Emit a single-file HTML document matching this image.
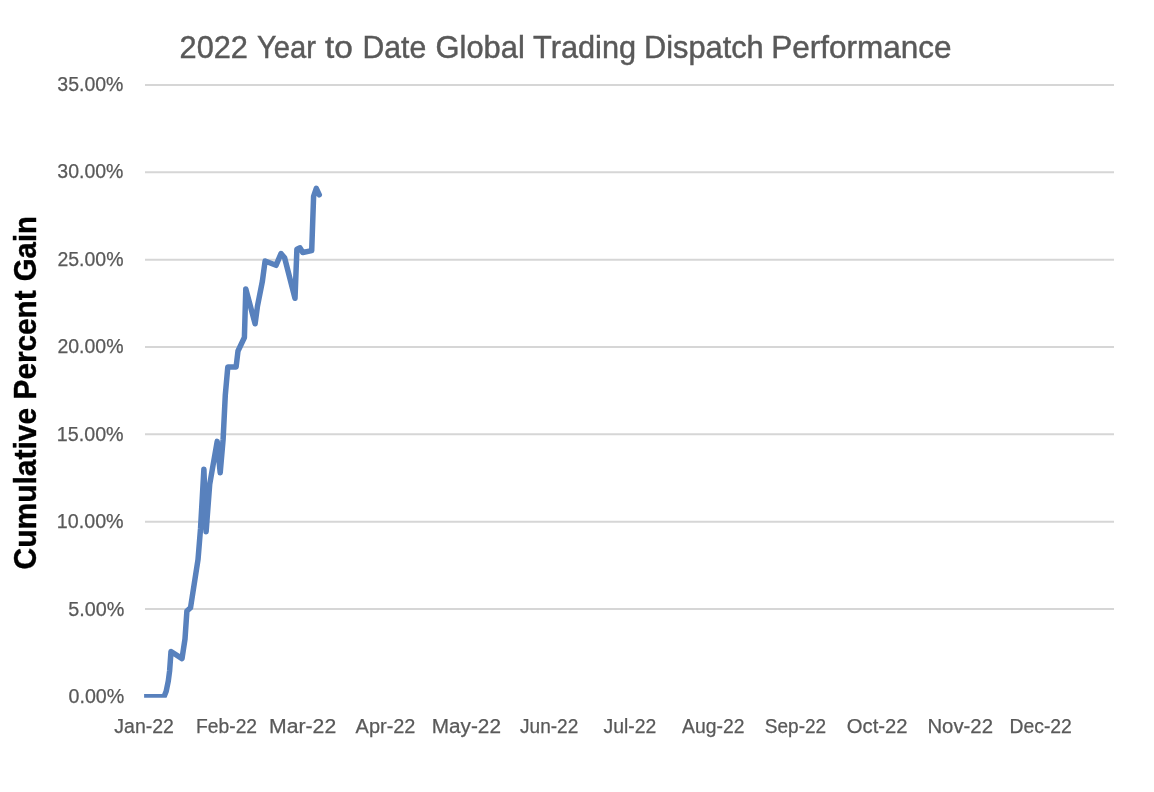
<!DOCTYPE html>
<html><head><meta charset="utf-8"><title>2022 Year to Date Global Trading Dispatch Performance</title>
<style>
html,body{margin:0;padding:0;background:#fff;}
body{width:1154px;height:792px;overflow:hidden;font-family:"Liberation Sans",sans-serif;}
svg{display:block;will-change:transform;}
svg text{font-family:"Liberation Sans",sans-serif;}
</style></head><body>
<svg width="1154" height="792" viewBox="0 0 1154 792">
<rect width="1154" height="792" fill="#ffffff"/>
<line x1="145" x2="1114" y1="85.00" y2="85.00" stroke="#d6d6d6" stroke-width="2"/>
<line x1="145" x2="1114" y1="172.33" y2="172.33" stroke="#d6d6d6" stroke-width="2"/>
<line x1="145" x2="1114" y1="259.67" y2="259.67" stroke="#d6d6d6" stroke-width="2"/>
<line x1="145" x2="1114" y1="347.00" y2="347.00" stroke="#d6d6d6" stroke-width="2"/>
<line x1="145" x2="1114" y1="434.33" y2="434.33" stroke="#d6d6d6" stroke-width="2"/>
<line x1="145" x2="1114" y1="521.66" y2="521.66" stroke="#d6d6d6" stroke-width="2"/>
<line x1="145" x2="1114" y1="609.00" y2="609.00" stroke="#d6d6d6" stroke-width="2"/>
<text id="t0" x="179.60" y="58.3" font-size="31.2" fill="#595959" stroke="#595959" stroke-width="0.45" textLength="68.37" lengthAdjust="spacingAndGlyphs">2022</text>
<text id="t1" x="256.94" y="58.3" font-size="31.2" fill="#595959" stroke="#595959" stroke-width="0.45" textLength="58.90" lengthAdjust="spacingAndGlyphs">Year</text>
<text id="t2" x="324.94" y="58.3" font-size="31.2" fill="#595959" stroke="#595959" stroke-width="0.45" textLength="27.87" lengthAdjust="spacingAndGlyphs">to</text>
<text id="t3" x="362.46" y="58.3" font-size="31.2" fill="#595959" stroke="#595959" stroke-width="0.45" textLength="63.78" lengthAdjust="spacingAndGlyphs">Date</text>
<text id="t4" x="435.60" y="58.3" font-size="31.2" fill="#595959" stroke="#595959" stroke-width="0.45" textLength="89.18" lengthAdjust="spacingAndGlyphs">Global</text>
<text id="t5" x="533.07" y="58.3" font-size="31.2" fill="#595959" stroke="#595959" stroke-width="0.45" textLength="103.03" lengthAdjust="spacingAndGlyphs">Trading</text>
<text id="t6" x="643.91" y="58.3" font-size="31.2" fill="#595959" stroke="#595959" stroke-width="0.45" textLength="119.84" lengthAdjust="spacingAndGlyphs">Dispatch</text>
<text id="t7" x="771.35" y="58.3" font-size="31.2" fill="#595959" stroke="#595959" stroke-width="0.45" textLength="180.30" lengthAdjust="spacingAndGlyphs">Performance</text>
<text id="y0" x="57.34" y="90.80" font-size="20.5" fill="#595959" stroke="#595959" stroke-width="0.25" textLength="66.13" lengthAdjust="spacingAndGlyphs">35.00%</text>
<text id="y1" x="57.34" y="178.30" font-size="20.5" fill="#595959" stroke="#595959" stroke-width="0.25" textLength="66.13" lengthAdjust="spacingAndGlyphs">30.00%</text>
<text id="y2" x="57.41" y="265.80" font-size="20.5" fill="#595959" stroke="#595959" stroke-width="0.25" textLength="66.08" lengthAdjust="spacingAndGlyphs">25.00%</text>
<text id="y3" x="57.41" y="353.30" font-size="20.5" fill="#595959" stroke="#595959" stroke-width="0.25" textLength="66.08" lengthAdjust="spacingAndGlyphs">20.00%</text>
<text id="y4" x="56.81" y="440.80" font-size="20.5" fill="#595959" stroke="#595959" stroke-width="0.25" textLength="66.83" lengthAdjust="spacingAndGlyphs">15.00%</text>
<text id="y5" x="56.81" y="528.30" font-size="20.5" fill="#595959" stroke="#595959" stroke-width="0.25" textLength="66.83" lengthAdjust="spacingAndGlyphs">10.00%</text>
<text id="y6" x="68.30" y="615.80" font-size="20.5" fill="#595959" stroke="#595959" stroke-width="0.25" textLength="56.08" lengthAdjust="spacingAndGlyphs">5.00%</text>
<text id="y7" x="68.56" y="703.30" font-size="20.5" fill="#595959" stroke="#595959" stroke-width="0.25" textLength="55.73" lengthAdjust="spacingAndGlyphs">0.00%</text>
<text id="xJan" x="114.39" y="732.9" font-size="19.4" fill="#595959" stroke="#595959" stroke-width="0.25" textLength="59.52" lengthAdjust="spacingAndGlyphs">Jan-22</text>
<text id="xFeb" x="196.04" y="732.9" font-size="19.4" fill="#595959" stroke="#595959" stroke-width="0.25" textLength="61.04" lengthAdjust="spacingAndGlyphs">Feb-22</text>
<text id="xMar" x="269.07" y="732.9" font-size="19.4" fill="#595959" stroke="#595959" stroke-width="0.25" textLength="67.14" lengthAdjust="spacingAndGlyphs">Mar-22</text>
<text id="xApr" x="355.60" y="732.9" font-size="19.4" fill="#595959" stroke="#595959" stroke-width="0.25" textLength="59.87" lengthAdjust="spacingAndGlyphs">Apr-22</text>
<text id="xMay" x="431.79" y="732.9" font-size="19.4" fill="#595959" stroke="#595959" stroke-width="0.25" textLength="69.15" lengthAdjust="spacingAndGlyphs">May-22</text>
<text id="xJun" x="520.00" y="732.9" font-size="19.4" fill="#595959" stroke="#595959" stroke-width="0.25" textLength="58.28" lengthAdjust="spacingAndGlyphs">Jun-22</text>
<text id="xJul" x="603.47" y="732.9" font-size="19.4" fill="#595959" stroke="#595959" stroke-width="0.25" textLength="52.81" lengthAdjust="spacingAndGlyphs">Jul-22</text>
<text id="xAug" x="682.12" y="732.9" font-size="19.4" fill="#595959" stroke="#595959" stroke-width="0.25" textLength="62.26" lengthAdjust="spacingAndGlyphs">Aug-22</text>
<text id="xSep" x="764.79" y="732.9" font-size="19.4" fill="#595959" stroke="#595959" stroke-width="0.25" textLength="61.40" lengthAdjust="spacingAndGlyphs">Sep-22</text>
<text id="xOct" x="846.89" y="732.9" font-size="19.4" fill="#595959" stroke="#595959" stroke-width="0.25" textLength="60.74" lengthAdjust="spacingAndGlyphs">Oct-22</text>
<text id="xNov" x="927.40" y="732.9" font-size="19.4" fill="#595959" stroke="#595959" stroke-width="0.25" textLength="65.58" lengthAdjust="spacingAndGlyphs">Nov-22</text>
<text id="xDec" x="1009.49" y="732.9" font-size="19.4" fill="#595959" stroke="#595959" stroke-width="0.25" textLength="62.39" lengthAdjust="spacingAndGlyphs">Dec-22</text>
<text id="a0" transform="translate(36.2,600.0) rotate(-90)" x="30.57" y="0" font-size="30.7" font-weight="bold" fill="#000000" stroke="#000000" stroke-width="0.4" textLength="161.52" lengthAdjust="spacingAndGlyphs">Cumulative</text>
<text id="a1" transform="translate(36.2,600.0) rotate(-90)" x="200.61" y="0" font-size="30.7" font-weight="bold" fill="#000000" stroke="#000000" stroke-width="0.4" textLength="109.03" lengthAdjust="spacingAndGlyphs">Percent</text>
<text id="a2" transform="translate(36.2,600.0) rotate(-90)" x="318.79" y="0" font-size="30.7" font-weight="bold" fill="#000000" stroke="#000000" stroke-width="0.4" textLength="65.16" lengthAdjust="spacingAndGlyphs">Gain</text>
<clipPath id="pc"><rect x="144.1" y="60" width="980" height="637.8"/></clipPath>
<path clip-path="url(#pc)" d="M140.0,696.8 L164.0,696.8 L166.2,691.3 L168.3,681.0 L169.6,671.0 L171.0,651.5 L182.0,658.6 L185.0,639.0 L186.9,611.0 L190.5,607.8 L198.0,559.7 L200.5,529.0 L203.9,469.2 L206.1,531.7 L209.7,484.4 L217.2,441.4 L220.2,472.8 L223.1,439.5 L225.3,395.0 L227.8,367.0 L236.1,367.0 L238.0,351.0 L244.4,337.5 L245.8,288.9 L255.1,323.8 L257.5,306.0 L262.4,281.1 L265.1,261.0 L276.0,265.3 L281.0,253.6 L284.6,257.8 L295.0,298.3 L296.9,249.2 L300.0,247.8 L302.8,252.5 L311.7,250.6 L313.6,196.4 L316.3,188.4 L319.3,194.8" fill="none" stroke="#5881bd" stroke-width="5.5" stroke-linejoin="round" stroke-linecap="round"/>
</svg>
</body></html>
